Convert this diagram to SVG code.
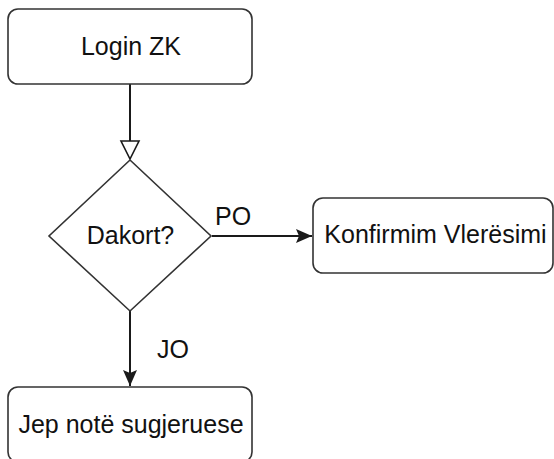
<svg xmlns="http://www.w3.org/2000/svg" width="554" height="459" viewBox="0 0 554 459">
<style>
.box{fill:#fff;stroke:#333;stroke-width:1.6}
.t{font-family:"Liberation Sans",Arial,sans-serif;font-size:25px;fill:#111;text-anchor:middle}
.lbl{font-family:"Liberation Sans",Arial,sans-serif;font-size:25px;fill:#111}
.edge{fill:none;stroke:#1a1a1a;stroke-width:2}
</style>
<defs>
<marker id="filled" viewBox="0 0 16 14" refX="16" refY="7" markerWidth="16" markerHeight="14" markerUnits="userSpaceOnUse" orient="auto">
<path d="M0,0 L16,7 L0,14 L3,7 Z" fill="#1a1a1a"/>
</marker>
</defs>
<rect width="554" height="459" fill="#fff"/>
<g id="connectors">
<line class="edge" x1="130" y1="84" x2="130" y2="141"/>
<path d="M121,141 L139,141 L130,159 Z" fill="#fff" stroke="#1a1a1a" stroke-width="1.6"/>
<line class="edge" x1="212" y1="236" x2="312" y2="236" marker-end="url(#filled)"/>
<line class="edge" x1="130" y1="310" x2="130" y2="386" marker-end="url(#filled)"/>
<text class="lbl" x="215" y="225">PO</text>
<text class="lbl" x="157" y="358">JO</text>
</g>
<g id="login">
<rect class="box" x="8" y="9" width="244" height="75" rx="10"/>
<text class="t" x="131" y="55">Login ZK</text>
</g>
<g id="dakort">
<path class="box" d="M130,160 L211,236 L130,311 L49,236 Z"/>
<text class="t" x="130.5" y="244">Dakort?</text>
</g>
<g id="konfirmim">
<rect class="box" x="313" y="198" width="240" height="75" rx="10"/>
<text class="t" x="435.5" y="243">Konfirmim Vlerësimi</text>
</g>
<g id="jep">
<rect class="box" x="8" y="387" width="244" height="75" rx="10"/>
<text class="t" x="131" y="433">Jep notë sugjeruese</text>
</g>
</svg>
